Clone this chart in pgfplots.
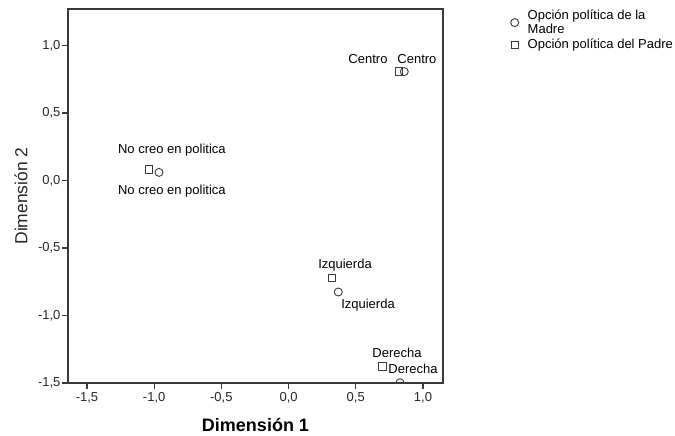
\documentclass[border=0pt]{standalone}
\usepackage{pgfplots}
\pgfplotsset{compat=1.18}
\usepackage{fontspec}
\setmainfont{Liberation Sans}
\definecolor{ax}{HTML}{3A3A3A}
\begin{document}
\begin{tikzpicture}
\path (0pt,0pt) rectangle (675pt,434pt);
\begin{axis}[
  at={(68pt,51pt)}, anchor=south west,
  scale only axis, width=375pt, height=374pt,
  xmin=-1.641, xmax=1.149, ymin=-1.5, ymax=1.27,
  xtick={-1.5,-1,-0.5,0,0.5,1}, ytick={-1.5,-1,-0.5,0,0.5,1},
  xtick pos=bottom, ytick pos=left,
  axis line style={ax, line width=1.1pt},
  tick align=outside, major tick length=6pt,
  tick style={ax, line width=1.1pt},
  /pgf/number format/.cd, use comma, fixed, fixed zerofill, precision=1, assume math mode=true,
  /pgfplots/.cd,
  ticklabel style={font=\fontsize{13}{15}\selectfont, text=black!85},
  yticklabel style={xshift=2pt},
  xlabel={\textbf{Dimensión 1}}, ylabel={Dimensión 2},
  xlabel style={font=\fontsize{18}{20}\selectfont, text=black, at={(axis description cs:0.5,-0.1123)}, anchor=center},
  ylabel style={font=\fontsize{17.5}{20}\selectfont, text=black!85, at={(axis description cs:-0.125,0.5)}, anchor=center},
  clip marker paths=true,
  legend style={at={(1.18,1.003)}, anchor=north west, draw=none, fill=none,
     font=\fontsize{13}{14}\selectfont, cells={align=left, anchor=west}, row sep=0pt,
     inner sep=0pt, /tikz/every odd column/.append style={column sep=7pt}},
  legend cell align=left,
]
\addplot[only marks, mark=o, mark size=4pt, draw=ax, line width=0.9pt, mark options={fill=white}] coordinates {
 (-0.964,0.060) (0.861,0.806) (0.370,-0.826) (0.829,-1.498)};
\addlegendentry{Opción política de la\\Madre}
\addplot[only marks, mark=square, mark size=3.7pt, draw=ax, line width=0.9pt, mark options={fill=white}] coordinates {
 (-1.039,0.082) (0.821,0.806) (0.321,-0.724) (0.699,-1.378)};
\addlegendentry{Opción política del Padre}
\begin{scope}[every node/.style={font=\fontsize{13}{15}\selectfont, text=black, inner sep=0pt}]
\node at (axis cs:-0.868,0.224) {No creo en politica};
\node at (axis cs:-0.868,-0.082) {No creo en politica};
\node at (axis cs:0.591,0.903) {Centro};
\node at (axis cs:0.955,0.903) {Centro};
\node at (axis cs:0.420,-0.627) {Izquierda};
\node at (axis cs:0.591,-0.925) {Izquierda};
\node at (axis cs:0.807,-1.276) {Derecha};
\node at (axis cs:0.926,-1.396) {Derecha};
\end{scope}
\end{axis}
\end{tikzpicture}
\end{document}
